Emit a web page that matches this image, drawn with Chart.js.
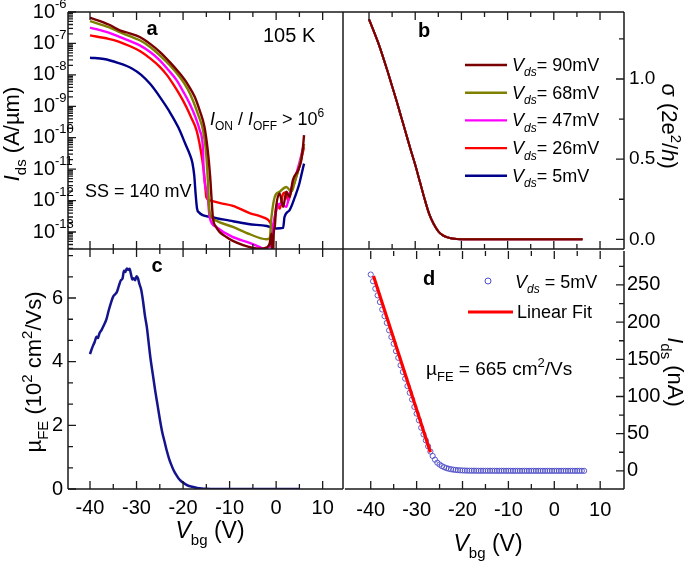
<!DOCTYPE html>
<html><head><meta charset="utf-8"><title>Transfer characteristics</title>
<script src="https://cdn.jsdelivr.net/npm/chart.js@4.4.1/dist/chart.umd.min.js"></script>
<style>
html,body{margin:0;padding:0;background:#fff;}
#wrap{position:relative;width:685px;height:562px;overflow:hidden;background:#fff;}
#wrap canvas{position:absolute;}
</style></head><body>
<div id="wrap">
<canvas id="cA" width="346" height="252" style="left:0px;top:0px;width:346px;height:252px"></canvas>
<canvas id="cB" width="345" height="252" style="left:340px;top:0px;width:345px;height:252px"></canvas>
<canvas id="cC" width="346" height="316" style="left:0px;top:246px;width:346px;height:316px"></canvas>
<canvas id="cD" width="345" height="316" style="left:340px;top:246px;width:345px;height:316px"></canvas>
</div>
<script>
const FONT = '"Liberation Sans", Arial, Helvetica, sans-serif';

// ================= DATA =================
const vdsLabels = ['90mV', '68mV', '47mV', '26mV', '5mV'];

// Panel a : I_ds (A/um) vs V_bg (V), log scale
const a90V = [-40, -36, -33.6, -31.5, -29.3, -27, -25, -22.8, -20.7, -19, -17.5, -16.4, -15.4, -14.7, -14.2, -13.9, -13.6, -12.9, -10.7, -7.1, -3.5, -2.1, -1.4, -1.0, -0.8, -0.5, -0.3, 0.0, 0.75, 1.5, 2.2, 2.9, 3.6, 4.7, 5.4, 5.7, 6.0];
const a90I = [6.6e-7, 4.0e-7, 2.6e-7, 2.1e-7, 1.6e-7, 9.5e-8, 5.4e-8, 2.5e-8, 1.1e-8, 5.0e-9, 2.0e-9, 7.1e-10, 2.2e-10, 4.0e-11, 6.3e-12, 1.3e-12, 3.0e-13, 1.45e-13, 6.9e-14, 3.8e-14, 2.95e-14, 3.2e-14, 4.3e-14, 8.9e-14, 2.5e-15, 1.0e-13, 1.45e-13, 6.3e-13, 1.7e-12, 6.3e-13, 1.9e-12, 1.3e-12, 4.5e-12, 9.1e-12, 1.9e-11, 4.0e-11, 1.2e-10];

const a68V = [-40, -36, -33.6, -31.5, -29.3, -27, -25, -22.8, -20.7, -19, -17.9, -16.8, -15.7, -15.1, -14.7, -14.4, -14.0, -12.9, -9.3, -5.7, -2.1, -1.4, -1.0, -0.3, 0.75, 2.2, 3.3, 4.2, 5.0, 6.0];
const a68I = [5.1e-7, 3.3e-7, 2.3e-7, 1.7e-7, 1.26e-7, 7.6e-8, 4.2e-8, 2.0e-8, 8.5e-9, 3.5e-9, 1.55e-9, 5.6e-10, 1.7e-10, 4.0e-11, 5.0e-12, 6.3e-13, 3.2e-13, 2.3e-13, 1.45e-13, 8.5e-14, 5.9e-14, 6.2e-14, 3.0e-13, 1.3e-12, 1.9e-12, 2.7e-12, 1.9e-12, 5.0e-12, 1.26e-11, 6.3e-11];

const a47V = [-40, -36, -33.6, -31.5, -29.3, -27, -25, -23.2, -21.4, -20, -18.6, -17.4, -16.4, -15.7, -15.6, -14.7, -14.3, -12.9, -9.5, -5.7, -3.5, -2.8, -1.3, -0.7, 0.04, 0.75, 2.2, 2.9, 4.0, 5.0, 6.0];
const a47I = [3.2e-7, 2.2e-7, 1.6e-7, 1.2e-7, 8.7e-8, 5.25e-8, 2.9e-8, 1.45e-8, 6.8e-9, 3.0e-9, 1.23e-9, 4.8e-10, 1.7e-10, 4.0e-11, 1.17e-11, 1.3e-12, 3.0e-13, 1.45e-13, 7.1e-14, 4.5e-14, 3.3e-14, 2.95e-14, 3.5e-14, 1.45e-13, 4.9e-13, 7.9e-13, 6.3e-13, 1.7e-12, 5.0e-12, 1.6e-11, 6.3e-11];

const a26V = [-40, -36, -34, -31.5, -29.3, -27, -25, -23.5, -22.2, -20.7, -19.3, -18.2, -17.1, -16.2, -15.6, -15.2, -15.0, -14.3, -12, -9.3, -5.7, -3.5, -1.8, -0.6, 0.2, 0.8, 1.4, 2.0, 2.6, 3.2, 4.0, 5.0, 6.0];
const a26I = [1.8e-7, 1.4e-7, 1.17e-7, 8.3e-8, 5.75e-8, 3.3e-8, 1.8e-8, 1.0e-8, 5.25e-9, 2.3e-9, 9.5e-10, 4.2e-10, 1.7e-10, 4.0e-11, 1.0e-11, 2.5e-12, 1.26e-12, 1.02e-12, 8.3e-13, 6.8e-13, 4.0e-13, 3.2e-13, 2.5e-13, 1.6e-13, 7.9e-13, 5.5e-13, 1.5e-12, 1.8e-12, 1.0e-12, 2.0e-12, 4.0e-12, 1.26e-11, 5.0e-11];

const a5V = [-40, -37, -34, -31, -29, -27, -25, -23, -21, -19.5, -18.5, -18, -17.6, -17.3, -17.0, -16.6, -14, -10, -6, -2, 0, 1.5, 1.8, 2.9, 4.0, 5.0, 5.4, 6.0];
const a5I = [3.5e-8, 3.2e-8, 2.4e-8, 1.6e-8, 1.0e-8, 5.0e-9, 2.0e-9, 7.1e-10, 2.1e-10, 6.3e-11, 2.8e-11, 1.6e-11, 6.3e-12, 1.6e-12, 5.6e-13, 4.2e-13, 3.0e-13, 2.3e-13, 1.8e-13, 1.55e-13, 1.3e-13, 1.35e-13, 3.0e-13, 5.0e-13, 1.26e-12, 3.5e-12, 6.3e-12, 1.5e-11];

// Panel b : sigma (2e^2/h) vs V_bg (all Vds curves overlap)
const bV = [-40, -39, -38, -37, -36, -35, -34, -33, -32, -31, -30, -29, -28, -27, -26, -25, -24, -23, -22, -21, -20, -18, -15, -10, -5, 0, 6.2];
const bSigma = [1.372, 1.30, 1.225, 1.14, 1.05, 0.955, 0.86, 0.76, 0.66, 0.56, 0.465, 0.36, 0.255, 0.16, 0.095, 0.05, 0.024, 0.012, 0.005, 0.002, 0.001, 0.0005, 0, 0, 0, 0, 0];

// Panel c : mu_FE (10^2 cm^2/Vs) vs V_bg
const cV = [-40, -39.5, -39, -38.6, -38.3, -38, -37.5, -37, -36.5, -36, -35.5, -35, -34.6, -34.2, -33.8, -33.4, -33, -32.7, -32.4, -32.1, -31.8, -31.5, -31.2, -30.9, -30.6, -30.3, -30, -29.7, -29.4, -29, -28.6, -28.2, -27.8, -27.4, -27, -26.5, -26, -25.5, -25, -24.5, -24, -23.5, -23, -22.5, -22, -21.5, -21, -20.5, -20, -19, -18, -17, -16, -15, -14, -10, -5, 0, 5];
const cMu = [4.24, 4.45, 4.62, 4.78, 4.74, 4.88, 5.0, 5.15, 5.32, 5.6, 5.85, 6.05, 6.12, 6.2, 6.38, 6.55, 6.62, 6.86, 6.82, 6.93, 6.88, 6.92, 6.75, 6.58, 6.62, 6.56, 6.68, 6.62, 6.45, 6.26, 5.9, 5.45, 5.1, 4.6, 4.1, 3.6, 3.1, 2.65, 2.2, 1.8, 1.5, 1.2, 0.95, 0.75, 0.58, 0.45, 0.34, 0.26, 0.2, 0.11, 0.07, 0.035, 0.015, 0.005, 0, 0, 0, 0, 0];

// Panel d : I_ds (nA) at Vds = 5 mV, and linear fit
const dV = [-40, -39.5, -39, -38.5, -38, -37.5, -37, -36.5, -36, -35.5, -35, -34.5, -34, -33.5, -33, -32.5, -32, -31.5, -31, -30.5, -30, -29.5, -29, -28.5, -28, -27.5, -27, -26.5, -26, -25.5, -25, -24.5, -24, -23.5, -23, -22.5, -22, -21.5, -21, -20.5, -20, -19.5, -19, -18.5, -18, -17.5, -17, -16.5, -16, -15.5, -15, -14.5, -14, -13.5, -13, -12.5, -12, -11.5, -11, -10.5, -10, -9.5, -9, -8.5, -8, -7.5, -7, -6.5, -6, -5.5, -5, -4.5, -4, -3.5, -3, -2.5, -2, -1.5, -1, -0.5, 0, 0.5, 1, 1.5, 2, 2.5, 3, 3.5, 4, 4.5, 5, 5.5, 6, 6.5];
const dI = [264, 255, 245, 236, 227, 217, 208, 199, 189, 180, 171, 161, 152, 142, 133, 124, 114, 105, 96, 86, 77, 68, 58, 49, 41, 33, 26, 20, 15, 11, 8.5, 6.4, 4.9, 3.7, 2.8, 2.1, 1.6, 1.2, 0.9, 0.7, 0.5, 0.4, 0.3, 0.25, 0.2, 0.2, 0.15, 0.1, 0.1, 0.1, 0.1, 0.1, 0.1, 0.1, 0.05, 0.05, 0.05, 0.05, 0.05, 0.05, 0.05, 0.05, 0, 0, 0, 0, 0, 0, 0, 0, 0, 0, 0, 0, 0, 0, 0, 0, 0, 0, 0, 0, 0, 0, 0, 0, 0, 0, 0, 0, 0, 0, 0, 0];
const fitV = [-39.4, -27.0];
const fitI = [262, 25];

// Tick labels
const xTickLabels = [-40, -30, -20, -10, 0, 10];
const aTickLabels = [1e-13, 1e-12, 1e-11, 1e-10, 1e-9, 1e-8, 1e-7, 1e-6];
const bTickLabels = [0, 0.5, 1.0];
const cTickLabels = [0, 2, 4, 6];
const dTickLabels = [0, 50, 100, 150, 200, 250];

// ================= STYLE / HELPERS =================
const seriesColors = ['#7a0000', '#808000', '#ff00ff', '#ff0000', '#00008b'];
const pts = (xs, ys) => xs.map((x, i) => ({x: x, y: ys[i]}));

const xMinor = [];
for (let v = -40; v <= 10; v += 5) xMinor.push([v, v % 10 === 0]);
const aMinor = [];
for (let e = -14; e <= -7; e++) for (let k = 1; k <= 9; k++) { const v = k * Math.pow(10, e); if (v >= 2.88e-14) aMinor.push([v, k === 1]); }
aMinor.push([1e-6, true]);
const bMinor = [0, 0.25, 0.5, 0.75, 1.0, 1.25].map(v => [v, Math.abs(v * 2 - Math.round(v * 2)) < 1e-9]);
const cMinor = [];
for (let k = 0; k <= 11; k++) cMinor.push([k * 2 / 3, k % 3 === 0]);
const dMinor = [];
for (let v = 0; v <= 275; v += 25) dMinor.push([v, v % 50 === 0]);

function zeroPad(s) { s.paddingTop = 0; s.paddingBottom = 0; s.paddingLeft = 0; s.paddingRight = 0; }

function opts(o) {
  return {
    responsive: false, maintainAspectRatio: false, animation: false, devicePixelRatio: 1,
    layout: {padding: o.pad},
    plugins: {legend: {display: false}, tooltip: {enabled: false}, title: {display: false}},
    scales: {
      x: {type: 'linear', position: 'bottom', min: o.x[0], max: o.x[1],
        grid: {display: false, drawTicks: false}, border: {display: false},
        ticks: {display: o.xLabels, color: '#000', font: {family: FONT, size: 20}, padding: o.xPad || 0,
          maxRotation: 0, autoSkip: false, callback: v => String(v)},
        afterBuildTicks: s => { s.ticks = xTickLabels.map(v => ({value: v})); },
        afterFit: s => { s.height = o.xH; zeroPad(s); }},
      y: {type: o.yType || 'linear', position: o.yPos, min: o.y[0], max: o.y[1],
        grid: {display: false, drawTicks: false}, border: {display: false},
        ticks: {color: '#000', font: {family: FONT, size: o.yFont || 20}, padding: o.yPad, autoSkip: false, callback: o.yFmt},
        afterBuildTicks: s => { s.ticks = o.yLabels.map(v => ({value: v})); },
        afterFit: s => { s.width = o.yW; zeroPad(s); }}
    }
  };
}

// inward tick marks on the library's scales, plus the frame sides this panel owns
function frameAndTicks(chart, spec) {
  const {ctx, chartArea: ca, scales} = chart;
  ctx.save();
  ctx.strokeStyle = '#1a1a1a';
  ctx.lineWidth = 1.3;
  ctx.beginPath();
  for (const [v, major] of xMinor) {
    const p = scales.x.getPixelForValue(v);
    const L = major ? 8 : 5;
    if (spec.top) { ctx.moveTo(p, ca.top); ctx.lineTo(p, ca.top + L); }
    if (spec.bottom) { ctx.moveTo(p, ca.bottom); ctx.lineTo(p, ca.bottom - L); }
  }
  for (const [v, major] of spec.yTicks) {
    const p = scales.y.getPixelForValue(v);
    const L = major ? 8 : 5;
    if (spec.side === 'left') { ctx.moveTo(ca.left, p); ctx.lineTo(ca.left + L, p); }
    else { ctx.moveTo(ca.right, p); ctx.lineTo(ca.right - L, p); }
  }
  ctx.stroke();
  ctx.lineWidth = 1.5;
  ctx.beginPath();
  const f = spec.frame;
  if (f.includes('L')) { ctx.moveTo(ca.left, ca.top); ctx.lineTo(ca.left, ca.bottom); }
  if (f.includes('R')) { ctx.moveTo(ca.right, ca.top); ctx.lineTo(ca.right, ca.bottom); }
  if (f.includes('T')) { ctx.moveTo(ca.left, ca.top); ctx.lineTo(ca.right, ca.top); }
  if (f.includes('B')) { ctx.moveTo(ca.left, ca.bottom); ctx.lineTo(ca.right, ca.bottom); }
  ctx.stroke();
  ctx.restore();
}

function rich(ctx, x, y, segs, size, align) {
  const parts = segs.map(([t, f]) => {
    f = f || '';
    const small = f.includes('s') || f.includes('p');
    const sz = small ? Math.round(size * 0.66) : size;
    const font = (f.includes('i') ? 'italic ' : '') + (f.includes('b') ? 'bold ' : '') + sz + 'px ' + FONT;
    ctx.font = font;
    return {t, font, w: ctx.measureText(t).width, dy: f.includes('s') ? size * 0.3 : (f.includes('p') ? -size * 0.42 : 0)};
  });
  const total = parts.reduce((a, p) => a + p.w, 0);
  let cx = align === 'center' ? x - total / 2 : (align === 'right' ? x - total : x);
  ctx.textAlign = 'left'; ctx.textBaseline = 'alphabetic'; ctx.fillStyle = '#000';
  for (const p of parts) { ctx.font = p.font; ctx.fillText(p.t, cx, y + p.dy); cx += p.w; }
}
function richRot(ctx, x, y, ang, segs, size) {
  ctx.save(); ctx.translate(x, y); ctx.rotate(ang); rich(ctx, 0, 0, segs, size, 'center'); ctx.restore();
}

// ================= PANEL a =================
const aSeries = [[a90V, a90I], [a68V, a68I], [a47V, a47I], [a26V, a26I], [a5V, a5I]];
new Chart(document.getElementById('cA'), {
  type: 'scatter',
  data: {datasets: aSeries.map((s, i) => ({label: 'Vds = ' + vdsLabels[i], data: pts(s[0], s[1]), showLine: true,
    borderColor: seriesColors[i], backgroundColor: seriesColors[i], borderWidth: 2.4, pointRadius: 0,
    cubicInterpolationMode: 'monotone', clip: 0}))},
  options: opts({pad: {top: 12, right: 3, bottom: 3, left: 0}, x: [-44.73, 14.37], xLabels: false, xH: 0,
    yType: 'logarithmic', yPos: 'left', y: [2.88e-14, 1.0e-6], yW: 68, yPad: 13, yFont: 20,
    yLabels: aTickLabels, yFmt: v => '10'}),
  plugins: [{id: 'decoA', afterDraw(chart) {
    frameAndTicks(chart, {top: true, bottom: true, side: 'left', yTicks: aMinor, frame: 'LRTB'});
    const ctx = chart.ctx, ca = chart.chartArea, ys = chart.scales.y;
    ctx.save();
    ctx.font = '13px ' + FONT; ctx.fillStyle = '#000'; ctx.textAlign = 'left'; ctx.textBaseline = 'middle';
    for (const v of aTickLabels) ctx.fillText('-' + Math.round(-Math.log10(v)), ca.left - 13, ys.getPixelForValue(v) - 8);
    rich(ctx, 152, 35, [['a', 'b']], 20, 'center');
    rich(ctx, 263, 42, [['105 K']], 20, 'left');
    rich(ctx, 210, 125, [['I', 'i'], ['ON', 's'], [' / '], ['I', 'i'], ['OFF', 's'], [' > 10'], ['6', 'p']], 18, 'left');
    rich(ctx, 85, 197, [['SS = 140 mV']], 18, 'left');
    richRot(ctx, 19, 134, -Math.PI / 2, [['I', 'i'], ['ds', 's'], [' (A/\u00b5m)']], 22);
    ctx.restore();
  }}]
});

// ================= PANEL b =================
new Chart(document.getElementById('cB'), {
  type: 'scatter',
  data: {datasets: vdsLabels.map((lab, i) => ({label: 'Vds = ' + lab, data: pts(bV, bSigma), showLine: true,
    borderColor: seriesColors[i], backgroundColor: seriesColors[i], borderWidth: 2, pointRadius: 0,
    cubicInterpolationMode: 'monotone', clip: 0}))},
  options: opts({pad: {top: 12, right: 0, bottom: 3, left: 3}, x: [-45.63, 15.19], xLabels: false, xH: 0,
    yPos: 'right', y: [-0.0605, 1.418], yW: 61, yPad: 5, yFont: 19, yLabels: bTickLabels, yFmt: v => v.toFixed(1)}),
  plugins: [{id: 'decoB', afterDraw(chart) {
    frameAndTicks(chart, {top: true, bottom: true, side: 'right', yTicks: bMinor, frame: 'RTB'});
    const ctx = chart.ctx;
    ctx.save(); ctx.translate(-340, 0);
    rich(ctx, 424, 37, [['b', 'b']], 20, 'center');
    vdsLabels.forEach((lab, i) => {
      const y = 65 + i * 27.7;
      ctx.strokeStyle = seriesColors[i]; ctx.lineWidth = 2.4;
      ctx.beginPath(); ctx.moveTo(465, y); ctx.lineTo(507, y); ctx.stroke();
      rich(ctx, 512, y + 6, [['V', 'i'], ['ds', 'is'], ['= ' + lab]], 18, 'left');
    });
    richRot(ctx, 662, 126, Math.PI / 2, [['\u03c3 (2e'], ['2', 'p'], ['/'], ['h', 'i'], [')']], 22);
    ctx.restore();
  }}]
});

// ================= PANEL c =================
new Chart(document.getElementById('cC'), {
  type: 'scatter',
  data: {datasets: [{label: 'mu_FE', data: pts(cV, cMu), showLine: true, borderColor: '#14148c', backgroundColor: '#14148c',
    borderWidth: 2.5, pointRadius: 0, cubicInterpolationMode: 'monotone', clip: 0}]},
  options: opts({pad: {top: 3, right: 3, bottom: 0, left: 0}, x: [-44.73, 14.37], xLabels: true, xH: 73, xPad: 7,
    yPos: 'left', y: [0, 7.54], yW: 68, yPad: 5, yLabels: cTickLabels, yFmt: v => String(v)}),
  plugins: [{id: 'decoC', afterDraw(chart) {
    frameAndTicks(chart, {top: true, bottom: true, side: 'left', yTicks: cMinor, frame: 'LRB'});
    const ctx = chart.ctx;
    ctx.save(); ctx.translate(0, -246);
    rich(ctx, 157, 272, [['c', 'b']], 20, 'center');
    richRot(ctx, 41, 372, -Math.PI / 2, [['\u00b5'], ['FE', 's'], [' (10'], ['2', 'p'], [' cm'], ['2', 'p'], ['/Vs)']], 22);
    rich(ctx, 210, 538, [['V', 'i'], ['bg', 's'], [' (V)']], 23, 'center');
    ctx.restore();
  }}]
});

// ================= PANEL d =================
new Chart(document.getElementById('cD'), {
  type: 'scatter',
  data: {datasets: [
    {label: 'Linear Fit', data: pts(fitV, fitI), showLine: true, borderColor: '#ff0000', backgroundColor: '#ff0000',
      borderWidth: 3.2, pointRadius: 0, clip: 0},
    {label: 'Vds = 5mV', data: pts(dV, dI), showLine: false, pointStyle: 'circle', pointRadius: 2.6,
      pointBorderWidth: 0.9, pointBorderColor: '#4b4bc6', pointBackgroundColor: 'rgba(255,255,255,0)'}
  ]},
  options: opts({pad: {top: 3, right: 0, bottom: 0, left: 3}, x: [-45.63, 15.19], xLabels: true, xH: 73, xPad: 9,
    yPos: 'right', y: [-24.4, 295.8], yW: 61, yPad: 3, yLabels: dTickLabels, yFmt: v => String(v)}),
  plugins: [{id: 'decoD', afterDraw(chart) {
    frameAndTicks(chart, {top: true, bottom: true, side: 'right', yTicks: dMinor, frame: 'RB'});
    const ctx = chart.ctx;
    ctx.save(); ctx.translate(-340, -246);
    rich(ctx, 429, 285, [['d', 'b']], 20, 'center');
    ctx.strokeStyle = '#4b4bc6'; ctx.lineWidth = 1;
    ctx.beginPath(); ctx.arc(488, 281, 3, 0, Math.PI * 2); ctx.stroke();
    rich(ctx, 515, 288, [['V', 'i'], ['ds', 'is'], [' = 5mV']], 18, 'left');
    ctx.strokeStyle = '#ff0000'; ctx.lineWidth = 3;
    ctx.beginPath(); ctx.moveTo(468, 312); ctx.lineTo(513, 312); ctx.stroke();
    rich(ctx, 517, 318, [['Linear Fit']], 18, 'left');
    rich(ctx, 426, 375, [['\u00b5'], ['FE', 's'], [' = 665 cm'], ['2', 'p'], ['/Vs']], 19, 'left');
    richRot(ctx, 668, 372, Math.PI / 2, [['I', 'i'], ['ds', 's'], [' (nA)']], 22);
    rich(ctx, 488, 551, [['V', 'i'], ['bg', 's'], [' (V)']], 23, 'center');
    ctx.restore();
  }}]
});
</script>
</body></html>
